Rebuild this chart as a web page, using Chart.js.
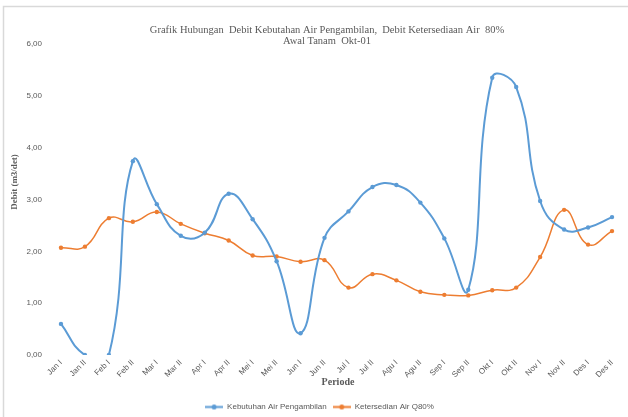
<!DOCTYPE html>
<html>
<head>
<meta charset="utf-8">
<script src="https://cdn.jsdelivr.net/npm/chart.js@4"></script>
<style>
    body { margin: 0; background: #fff; }
    canvas { display: block; }
</style>
</head>
<body>
<canvas id="myChart" width="628" height="417"></canvas>
<script>
// data
const categories = ['Jan I', 'Jan II', 'Feb I', 'Feb II', 'Mar I', 'Mar II', 'Apr I', 'Apr II',
    'Mei I', 'Mei II', 'Jun I', 'Jun II', 'Jul I', 'Jul II', 'Agu I', 'Agu II',
    'Sep I', 'Sep II', 'Okt I', 'Okt II', 'Nov I', 'Nov II', 'Des I', 'Des II'];
const kebutuhan = [0.60, 0.00, 0.00, 3.74, 2.91, 2.30, 2.36, 3.11, 2.62, 1.81, 0.42, 2.26,
    2.77, 3.24, 3.28, 2.94, 2.25, 1.26, 5.35, 5.17, 2.97, 2.42, 2.46, 2.66];
const ketersediaan = [2.07, 2.09, 2.64, 2.57, 2.76, 2.53, 2.35, 2.21, 1.92, 1.90, 1.80, 1.83,
    1.30, 1.56, 1.44, 1.22, 1.16, 1.15, 1.25, 1.30, 1.89, 2.80, 2.13, 2.39];
const yTicks = [0, 1, 2, 3, 4, 5, 6];

const seriesNames = ['Kebutuhan Air Pengambilan', 'Ketersedian Air Q80%'];
const titleLines = ['Grafik Hubungan  Debit Kebutahan Air Pengambilan,  Debit Ketersediaan Air  80%', 'Awal Tanam  Okt-01'];

const BLUE = '#5B9BD5';
const ORANGE = '#ED7D31';
const GREY = '#595959';

function legendIcon(color) {
    var c = document.createElement('canvas');
    c.width = 18;
    c.height = 7;
    var g = c.getContext('2d');
    g.strokeStyle = color;
    g.lineWidth = 2;
    g.beginPath();
    g.moveTo(0, 3.5);
    g.lineTo(18, 3.5);
    g.stroke();
    g.fillStyle = color;
    g.beginPath();
    g.arc(9, 3.5, 2.5, 0, Math.PI * 2);
    g.fill();
    return c;
}

// frame + texts that sit outside the axes
var decorPlugin = {
    id: 'decor',
    beforeDraw: function(chart) {
        var ctx = chart.ctx;
        ctx.save();
        ctx.fillStyle = '#fff';
        ctx.fillRect(0, 0, chart.width, chart.height);
        ctx.strokeStyle = '#d9d9d9';
        ctx.lineWidth = 1.5;
        ctx.beginPath();
        ctx.moveTo(3.5, chart.height);
        ctx.lineTo(3.5, 6.5);
        ctx.lineTo(chart.width, 6.5);
        ctx.stroke();
        ctx.restore();
    },
    afterDraw: function(chart) {
        var ctx = chart.ctx;
        ctx.save();
        ctx.fillStyle = GREY;
        ctx.textAlign = 'center';
        ctx.textBaseline = 'middle';
        ctx.font = '10.5px "Liberation Serif"';
        ctx.fillText(titleLines[0], 327, 30);
        ctx.fillText(titleLines[1], 327, 41);

        ctx.font = 'bold 10px "Liberation Serif"';
        ctx.fillText('Periode', 338, 382);

        ctx.translate(15, 182);
        ctx.rotate(-Math.PI / 2);
        ctx.font = 'bold 9px "Liberation Serif"';
        ctx.fillText('Debit (m3/det)', 0, 0);
        ctx.restore();
    }
};

var ctx = document.getElementById('myChart').getContext('2d');
var myChart = new Chart(ctx, {
    type: 'line',
    data: {
        labels: categories,
        datasets: [{
            label: seriesNames[0],
            data: kebutuhan,
            borderColor: BLUE,
            backgroundColor: BLUE,
            borderWidth: 2,
            pointRadius: 2.2,
            pointBorderWidth: 0,
            tension: 0.45,
            segment: {
                // the reference has no line between the two zero points
                borderColor: function(c) {
                    return (c.p0.parsed.y === 0 && c.p1.parsed.y === 0) ? 'rgba(0,0,0,0)' : undefined;
                }
            }
        }, {
            label: seriesNames[1],
            data: ketersediaan,
            borderColor: ORANGE,
            backgroundColor: ORANGE,
            borderWidth: 1.5,
            pointRadius: 2.2,
            pointBorderWidth: 0,
            tension: 0.45
        }]
    },
    options: {
        responsive: false,
        animation: false,
        layout: {
            padding: { left: 12, right: 1, top: 44, bottom: -4 }
        },
        plugins: {
            title: { display: false },
            tooltip: { enabled: false },
            legend: {
                position: 'bottom',
                labels: {
                    usePointStyle: true,
                    pointStyleWidth: 18,
                    padding: 6,
                    color: GREY,
                    font: { family: '"Liberation Sans"', size: 8 },
                    generateLabels: function(chart) {
                        return chart.data.datasets.map(function(ds, i) {
                            return {
                                text: ds.label,
                                pointStyle: legendIcon(ds.borderColor),
                                fillStyle: ds.borderColor,
                                strokeStyle: ds.borderColor,
                                lineWidth: 0,
                                fontColor: GREY,
                                hidden: false,
                                datasetIndex: i
                            };
                        });
                    }
                }
            }
        },
        scales: {
            x: {
                offset: true,
                grid: { display: false, drawTicks: false },
                border: { display: false },
                ticks: {
                    color: GREY,
                    font: { family: '"Liberation Sans"', size: 8 },
                    minRotation: 45,
                    maxRotation: 45,
                    padding: 3,
                    autoSkip: false
                },
                afterFit: function(scale) { scale.height = 42; }
            },
            y: {
                min: yTicks[0],
                max: yTicks[yTicks.length - 1],
                grid: { display: false, drawTicks: false },
                border: { display: false },
                afterBuildTicks: function(scale) {
                    scale.ticks = yTicks.map(function(v) { return { value: v }; });
                },
                ticks: {
                    color: GREY,
                    font: { family: '"Liberation Sans"', size: 8 },
                    padding: 7,
                    callback: function(value) {
                        return value.toFixed(2).replace('.', ',');
                    }
                },
                afterFit: function(scale) { scale.width = 37; }
            }
        }
    },
    plugins: [decorPlugin]
});
</script>
</body>
</html>
